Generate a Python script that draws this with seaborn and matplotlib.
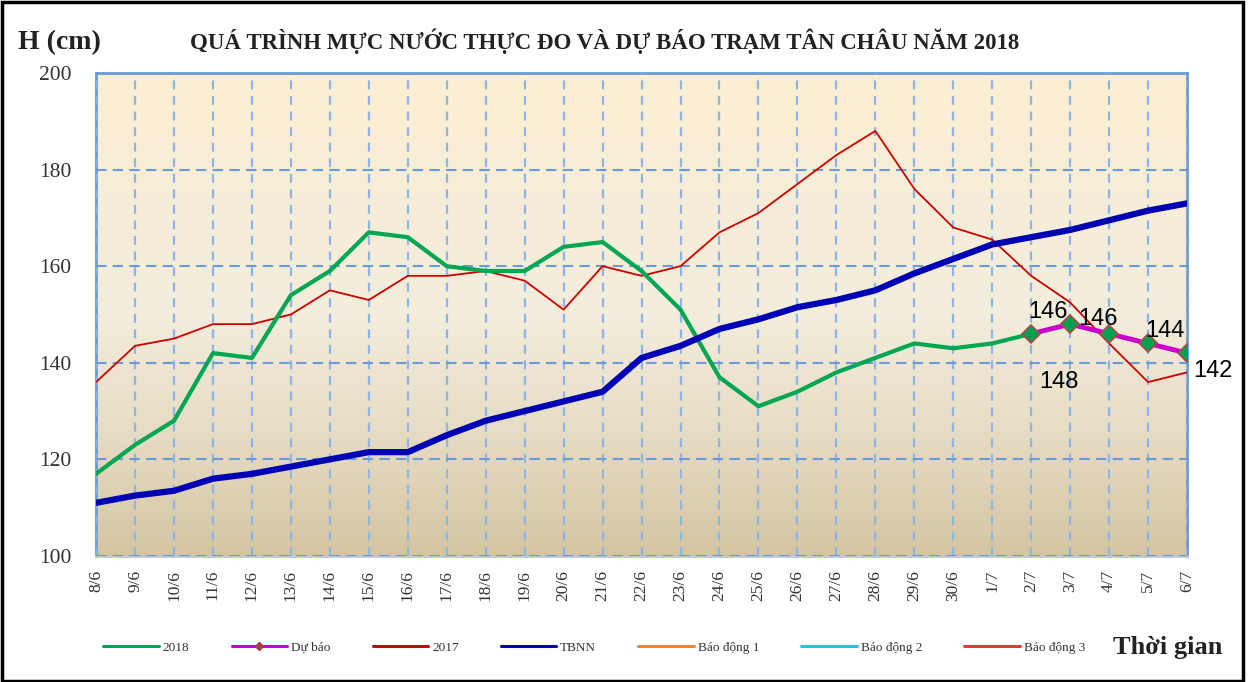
"""Water level chart: Tan Chau station 2018, measured vs forecast."""

import matplotlib

matplotlib.use("Agg")

import matplotlib.pyplot as plt
import numpy as np
import pandas as pd
import seaborn as sns
from matplotlib.colors import LinearSegmentedColormap
from matplotlib.lines import Line2D
from matplotlib.patches import Rectangle

dates = [
    "8/6", "9/6", "10/6", "11/6", "12/6", "13/6", "14/6", "15/6", "16/6", "17/6",
    "18/6", "19/6", "20/6", "21/6", "22/6", "23/6", "24/6", "25/6", "26/6", "27/6",
    "28/6", "29/6", "30/6", "1/7", "2/7", "3/7", "4/7", "5/7", "6/7",
]
level_2018 = [117, 123, 128, 142, 141, 154, 159, 167, 166, 160,
              159, 159, 164, 165, 159, 151, 137, 131, 134, 138,
              141, 144, 143, 144, 146]
forecast_dates = ["2/7", "3/7", "4/7", "5/7", "6/7"]
forecast = [146, 148, 146, 144, 142]
level_2017 = [136, 143.5, 145, 148, 148, 150, 155, 153, 158, 158,
              159, 157, 151, 160, 158, 160, 167, 171, 177, 183,
              188, 176, 168, 165.5, 158, 152.5, 144, 136, 138]
tbnn = [111, 112.5, 113.5, 116, 117, 118.5, 120, 121.5, 121.5, 125,
        128, 130, 132, 134, 141, 143.5, 147, 149, 151.5, 153,
        155, 158.5, 161.5, 164.5, 166, 167.5, 169.5, 171.5, 173]

pos = {d: i for i, d in enumerate(dates)}
df_2018 = pd.DataFrame({"x": [pos[d] for d in dates[:len(level_2018)]], "H": level_2018})
df_fc = pd.DataFrame({"x": [pos[d] for d in forecast_dates], "H": forecast})
df_2017 = pd.DataFrame({"x": range(len(dates)), "H": level_2017})
df_tbnn = pd.DataFrame({"x": range(len(dates)), "H": tbnn})

SERIF = ["Liberation Serif", "DejaVu Serif"]
SANS = ["Liberation Sans", "DejaVu Sans"]

sns.set_style("white")
plt.rcParams["font.family"] = SERIF

fig = plt.figure(figsize=(12.54, 6.82), dpi=100)
ax = fig.add_axes([0.0766, 0.1848, 0.87, 0.7082])

# gradient background of the plot area
bg = LinearSegmentedColormap.from_list(
    "bg", ["#d5c5a2", "#e6dcc4", "#f3eddc", "#f7eed8", "#fdefd2"])
ax.imshow(np.linspace(0, 1, 256).reshape(-1, 1), cmap=bg, origin="lower",
          extent=[0, 1, 0, 1], transform=ax.transAxes, aspect="auto", zorder=0)

c_2018, c_fc, c_2017, c_tbnn = "#00a651", "#cc00cc", "#cc0000", "#0000b4"

sns.lineplot(data=df_2017, x="x", y="H", ax=ax, color=c_2017, linewidth=1.3, zorder=3)
sns.lineplot(data=df_2018, x="x", y="H", ax=ax, color=c_2018, linewidth=3.0, zorder=4)
sns.lineplot(data=df_tbnn, x="x", y="H", ax=ax, color=c_tbnn, linewidth=4.5, zorder=4)
sns.lineplot(data=df_fc, x="x", y="H", ax=ax, color=c_fc, linewidth=3.5, zorder=5,
             marker="D", markersize=9, markerfacecolor="#00a050",
             markeredgecolor="#b04848", markeredgewidth=1.2)

# data labels for the forecast points
label_offsets = [(12, 16), (-8, -42), (-8, 11), (12, 9), (19, -13)]
for d, v, off in zip(forecast_dates, forecast, label_offsets):
    ax.annotate(f"{v:g}", (pos[d], v), xytext=off, textcoords="offset points",
                ha="center", va="center", fontsize=17, family=SANS,
                color="black", zorder=6, annotation_clip=False)

ax.set_xlim(0, len(dates) - 1)
ax.set_ylim(100, 200)
ax.set_yticks(range(100, 201, 20))
ax.set_xticks(range(len(dates)))
ax.set_xticklabels(dates, rotation=90, fontsize=12.5)
ax.tick_params(axis="y", labelsize=15.5, length=0, pad=18, labelcolor="#333333")
ax.tick_params(axis="x", length=0, pad=10, labelcolor="#333333")
ax.set_xlabel("")
ax.set_ylabel("")

ax.grid(True, axis="x", color="#8fb4e6", linestyle=(0, (4, 3)), linewidth=1.6, zorder=1)
ax.grid(True, axis="y", color="#6a9ad8", linestyle=(0, (5, 3)), linewidth=1.5, zorder=1)
ax.set_axisbelow(False)
for side in ["left", "top", "right"]:
    ax.spines[side].set_color("#6a9ad8")
    ax.spines[side].set_linewidth(2)
ax.spines["bottom"].set_color("#c0c4cc")
ax.spines["bottom"].set_linewidth(2)

fig.text(0.014, 0.937, "H (cm)", fontsize=20, fontweight="bold", color="#222222",
         ha="left", va="center")
fig.text(0.4825, 0.939, "QUÁ TRÌNH MỰC NƯỚC THỰC ĐO VÀ DỰ BÁO TRẠM TÂN CHÂU NĂM 2018",
         fontsize=16.5, fontweight="bold", color="#222222", ha="center", va="center")
fig.text(0.975, 0.05, "Thời gian", fontsize=19, fontweight="bold", color="#222222",
         ha="right", va="center")

legend_items = [
    ("2018", c_2018, None),
    ("Dự báo", c_fc, "D"),
    ("2017", c_2017, None),
    ("TBNN", c_tbnn, None),
    ("Báo động 1", "#e8873a", None),
    ("Báo động 2", "#33bbee", None),
    ("Báo động 3", "#ff3333", None),
]
handles = [
    Line2D([], [], color=c, linewidth=2.2, marker=m, markersize=4,
           markerfacecolor="#a04040", markeredgecolor="#a04040")
    for _, c, m in legend_items
]
fig.legend(handles, [n for n, _, _ in legend_items], loc="center left",
           bbox_to_anchor=(0.073, 0.05), ncol=7, frameon=False, fontsize=9.5,
           handlelength=4.2, handletextpad=0.3, columnspacing=3.2,
           labelcolor="#333333")

fig.add_artist(Rectangle((0.0015, 0.002), 0.9895, 0.995, transform=fig.transFigure,
                         fill=False, edgecolor="black", linewidth=2.5))

fig.savefig("out.png", dpi=100)
plt.close(fig)
